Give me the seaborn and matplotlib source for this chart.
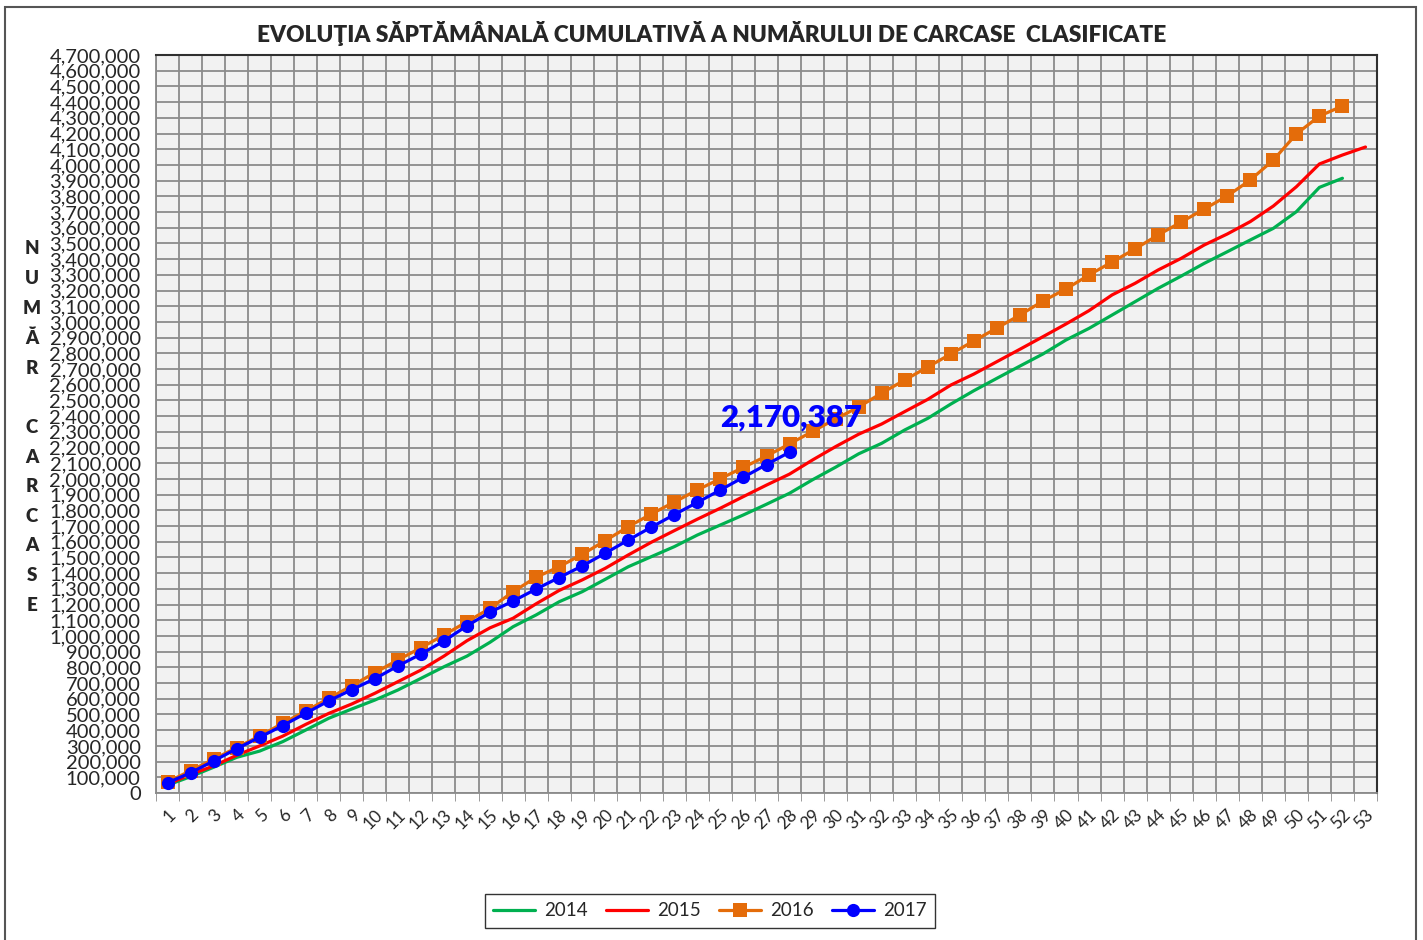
import numpy as np
import pandas as pd
import matplotlib
matplotlib.use('Agg')
import matplotlib.pyplot as plt
from matplotlib.patches import Rectangle
from matplotlib.ticker import FuncFormatter
import seaborn as sns

# cumulative number of classified carcasses, in thousands, per week
val_2014 = [50, 104, 164, 227, 267, 327, 401, 476, 535, 592, 656, 730, 804, 872, 960,
            1059, 1134, 1218, 1282, 1361, 1441, 1505, 1569, 1643, 1707, 1771, 1839, 1909,
            1995, 2075, 2160, 2227, 2312, 2386, 2477, 2562, 2641, 2719, 2796, 2885, 2959,
            3044, 3129, 3214, 3292, 3373, 3447, 3522, 3596, 3702, 3857, 3915]
val_2015 = [55, 118, 172, 240, 300, 362, 437, 507, 567, 635, 709, 783, 872, 970, 1052,
            1113, 1205, 1290, 1357, 1431, 1516, 1597, 1671, 1744, 1814, 1888, 1961, 2031,
            2121, 2206, 2285, 2350, 2429, 2507, 2598, 2668, 2747, 2826, 2906, 2987, 3072,
            3172, 3246, 3331, 3405, 3490, 3560, 3639, 3738, 3861, 4006, 4063, 4114]
val_2016 = [70, 142, 215, 289, 363, 444, 522, 603, 683, 766, 847, 925, 1006, 1091, 1176,
            1282, 1374, 1441, 1520, 1607, 1696, 1777, 1853, 1930, 2002, 2074, 2146, 2223,
            2303, 2382, 2458, 2547, 2630, 2713, 2796, 2879, 2961, 3044, 3133, 3210, 3299,
            3382, 3465, 3554, 3636, 3719, 3802, 3904, 4031, 4197, 4311, 4375]
val_2017 = [65, 129, 204, 282, 355, 429, 508, 587, 658, 728, 809, 885, 968, 1065, 1152,
            1222, 1299, 1372, 1446, 1527, 1611, 1693, 1773, 1851, 1930, 2011, 2092, 2170.387]

week_labels = [str(i) for i in range(1, 54)]
title = "EVOLUŢIA SĂPTĂMÂNALĂ CUMULATIVĂ A NUMĂRULUI DE CARCASE  CLASIFICATE"
ylabel = "NUMĂR CARCASE"

series = {
    '2014': (val_2014, '#00b050', None),
    '2015': (val_2015, '#ff0000', None),
    '2016': (val_2016, '#e46c0a', 's'),
    '2017': (val_2017, '#0000ff', 'o'),
}

sns.set_style('white')
plt.rcParams['font.family'] = ['Lato', 'DejaVu Sans']

fig = plt.figure(figsize=(14.23, 9.40), dpi=100)
ax = fig.add_axes([156 / 1423, 1 - 793 / 940, (1377 - 156) / 1423, (793 - 55) / 940])
ax.set_facecolor('#f2f2f2')

for name, (vals, col, mk) in series.items():
    df = pd.DataFrame({'week': np.arange(1, len(vals) + 1), 'value': np.array(vals) * 1000})
    sns.lineplot(data=df, x='week', y='value', ax=ax, color=col, linewidth=2.3,
                 marker=mk, markersize=9.5, markeredgewidth=0, label=name, zorder=3)

# label on last 2017 point
last_w = len(val_2017)
ax.annotate(f"{val_2017[-1] * 1000:,.0f}", xy=(last_w, val_2017[-1] * 1000),
            xytext=(1, 25), textcoords='offset points', ha='center', va='center',
            fontsize=22.5, fontweight='heavy', color='#0000ff', zorder=5)

ax.set_xlim(0.5, 53.5)
ax.set_ylim(0, 4700000)
ax.set_xticks(np.arange(1, 54))
ax.set_xticklabels(week_labels, rotation=45, ha='right', rotation_mode='anchor', fontsize=12.5)
ax.set_xticks(np.arange(0.5, 54), minor=True)
ax.set_yticks(np.arange(0, 4700001, 100000))
ax.yaxis.set_major_formatter(FuncFormatter(lambda v, p: f"{v:,.0f}"))
ax.tick_params(axis='y', labelsize=14.5, length=5, color='#8a8a8a', pad=6)
ax.tick_params(axis='x', which='major', length=0, pad=10)
ax.tick_params(axis='x', which='minor', length=6, color='#8a8a8a', bottom=True)
ax.grid(which='major', axis='y', color='#8c8c8c', linewidth=1.3)
ax.grid(which='minor', axis='x', color='#8c8c8c', linewidth=1.3)
ax.set_axisbelow(True)
ax.set_xlabel('')
ax.set_ylabel('')
for side in ['left', 'bottom']:
    ax.spines[side].set_color('#8a8a8a')
    ax.spines[side].set_linewidth(1.3)
for side in ['top', 'right']:
    ax.spines[side].set_color('#303030')
    ax.spines[side].set_linewidth(1.5)

ax.get_legend().remove()
handles, labels = ax.get_legend_handles_labels()
leg = fig.legend(handles, labels, loc='center', bbox_to_anchor=(710 / 1423, 1 - 911 / 940),
                 ncol=4, fontsize=13.5, frameon=True, fancybox=False, handlelength=2.2,
                 columnspacing=1.0, handletextpad=0.5, borderpad=0.45)
leg.get_frame().set_edgecolor('#000000')
leg.get_frame().set_linewidth(1.0)

fig.text(712 / 1423, 1 - 33 / 940, title, ha='center', va='center',
         fontsize=16.3, fontweight='heavy')
fig.text(32 / 1423, 1 - 427 / 940, "\n".join(ylabel),
         ha='center', va='center', fontsize=13.5, fontweight='heavy', linespacing=1.9)

fig.patches.append(Rectangle((5 / 1423, -0.01), 1411 / 1423, 1 - 7 / 940 + 0.01,
                             transform=fig.transFigure, fill=False,
                             edgecolor='#555555', linewidth=1.5))

fig.savefig('out.png', dpi=100)
